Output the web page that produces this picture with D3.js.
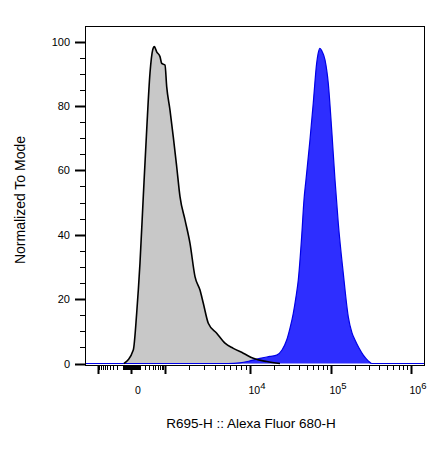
<!DOCTYPE html>
<html><head><meta charset="utf-8">
<script src="https://cdn.jsdelivr.net/npm/d3@7"></script>
<style>body{margin:0;background:#fff} text{font-family:Arial,"Liberation Sans",sans-serif;fill:#000}</style>
</head><body><svg id="c" width="441" height="454"></svg>
<script>
// Unstained control (grey) histogram: intensity vs % of mode
const controlX = [-81, 22, 61, 107, 163, 234, 318, 400, 456, 549, 702, 794, 1000, 1051, 1157, 1272, 1402, 1539, 1770, 2032, 2330, 2669, 2918, 3337, 4175, 5198, 6465, 8399, 10994, 16125, 23550];
const controlY = [0, 4.2, 15.7, 31.2, 51.8, 72.5, 90.2, 97.4, 98.4, 96.8, 95.3, 93.2, 92.7, 86.0, 78.7, 70.4, 61.1, 51.8, 44.6, 37.3, 27.0, 22.8, 18.7, 12.5, 9.4, 6.3, 4.7, 3.2, 1.6, 0.6, 0];
// Stained sample (blue) histogram
const stainedX = [-1500, 5628, 7705, 10000, 13316, 17715, 21440, 24925, 28490, 31290, 34350, 37080, 39570, 43560, 46510, 49200, 55100, 60480, 66600, 70065, 73110, 77355, 84360, 92610, 102080, 112260, 123440, 142490, 164550, 183150, 199650, 224100, 253500, 290100, 322800, 1500000];
const stainedY = [0, 0, 0.2, 0.8, 1.6, 2.2, 2.6, 4.2, 7.3, 11.0, 15.6, 20.7, 25.9, 39.4, 50.8, 57.0, 69.4, 80.8, 93.2, 96.7, 97.9, 97.0, 94.3, 87.0, 72.5, 57.0, 43.5, 28.0, 14.5, 9.5, 7.3, 4.8, 2.6, 0.9, 0, 0];
// Axis ticks
const yTicks = [0, 20, 40, 60, 80, 100];
const xMajorTicks = [-1000, 0, 1e3, 1e4, 1e5, 1e6];
const xLabelValues = [0, 1e4, 1e5, 1e6];
const xLabelBases = ["0", "10", "10", "10"];
const xLabelExps = ["", "4", "5", "6"];
const xTitle = "R695-H :: Alexa Fluor 680-H";
const yTitle = "Normalized To Mode";

const svg = d3.select("#c");
const L = 85, R = 424, T = 26, B = 365;

// biexponential-like x scale (symlog transform + piecewise linear display)
const sym = d3.scaleSymlog().constant(150).domain([0, 1]).range([0, 1]);
const xAnchors = [-1500, -1000, 0, 1e3, 1e4, 1e5, 1e6, 1.5e6];
const xs = d3.scaleLinear().domain(xAnchors.map(sym)).range([L, 98, 131, 165, 250, 331, 411, R]);
const x = v => xs(sym(v));
const y = d3.scaleLinear().domain([0, 100]).range([363.5, 41.5]);

const control = controlX.map((v, i) => [v, controlY[i]]);
const stained = stainedX.map((v, i) => [v, stainedY[i]]);

const area = d3.area().x(d => x(d[0])).y0(y(0)).y1(d => y(d[1])).curve(d3.curveMonotoneX);
const line = d3.line().x(d => x(d[0])).y(d => y(d[1])).curve(d3.curveMonotoneX);

svg.append("path").attr("d", area(control)).attr("fill", "#c8c8c8");
svg.append("path").attr("d", area(stained)).attr("fill", "#2e2eff");
svg.append("path").attr("d", line(stained)).attr("fill", "none").attr("stroke", "#0000e6").attr("stroke-width", 1.2);
svg.append("path").attr("d", line(control)).attr("fill", "none").attr("stroke", "#000").attr("stroke-width", 1.6);

// frame
svg.append("rect").attr("x", L + 0.5).attr("y", T + 0.5).attr("width", R - L).attr("height", B - T)
  .attr("fill", "none").attr("stroke", "#000").attr("stroke-width", 1);

// y axis ticks
const yAll = d3.range(0, 101, 5);
svg.append("g").selectAll("line").data(yAll).join("line")
  .attr("x1", d => d % 20 === 0 ? L - 10 : L - 5).attr("x2", L)
  .attr("y1", d => Math.round(y(d)) + 0.5).attr("y2", d => Math.round(y(d)) + 0.5)
  .attr("stroke", "#000").attr("stroke-width", d => d % 20 === 0 ? 2 : 1);
svg.append("g").selectAll("text").data(yTicks).join("text")
  .attr("x", 70).attr("y", d => y(d) + 4).attr("text-anchor", "end")
  .attr("font-size", 11).text(d => d);

// x axis ticks
const xMinor = [];
[-1, 1].forEach(s => {
  for (let k = 1; k <= 9; k++) { xMinor.push(s * k * 10); xMinor.push(s * k * 100); }
});
[1e3, 1e4, 1e5].forEach(p => { for (let k = 2; k <= 9; k++) xMinor.push(k * p); });
svg.append("g").selectAll("line").data(xMinor).join("line")
  .attr("x1", d => Math.round(x(d)) + 0.5).attr("x2", d => Math.round(x(d)) + 0.5)
  .attr("y1", B + 1).attr("y2", B + 5).attr("stroke", "#000").attr("stroke-width", 1);
svg.append("g").selectAll("line").data(xMajorTicks).join("line")
  .attr("x1", d => Math.round(x(d)) + 0.5).attr("x2", d => Math.round(x(d)) + 0.5)
  .attr("y1", B + 1).attr("y2", B + 9).attr("stroke", "#000").attr("stroke-width", 2);
const lab = svg.append("g").selectAll("text").data(xLabelValues).join("text")
  .attr("x", d => x(d) + 7).attr("y", 393.5).attr("text-anchor", "middle").attr("font-size", 10.5);
lab.append("tspan").text((d, i) => xLabelBases[i]);
lab.append("tspan").attr("dy", -5).attr("font-size", 9.5).text((d, i) => xLabelExps[i]);

// titles
svg.append("text").attr("x", 251).attr("y", 428).attr("text-anchor", "middle")
  .attr("font-size", 13.5).text(xTitle);
svg.append("text").attr("transform", "translate(25,200) rotate(-90)").attr("text-anchor", "middle")
  .attr("font-size", 14).text(yTitle);
</script></body></html>
